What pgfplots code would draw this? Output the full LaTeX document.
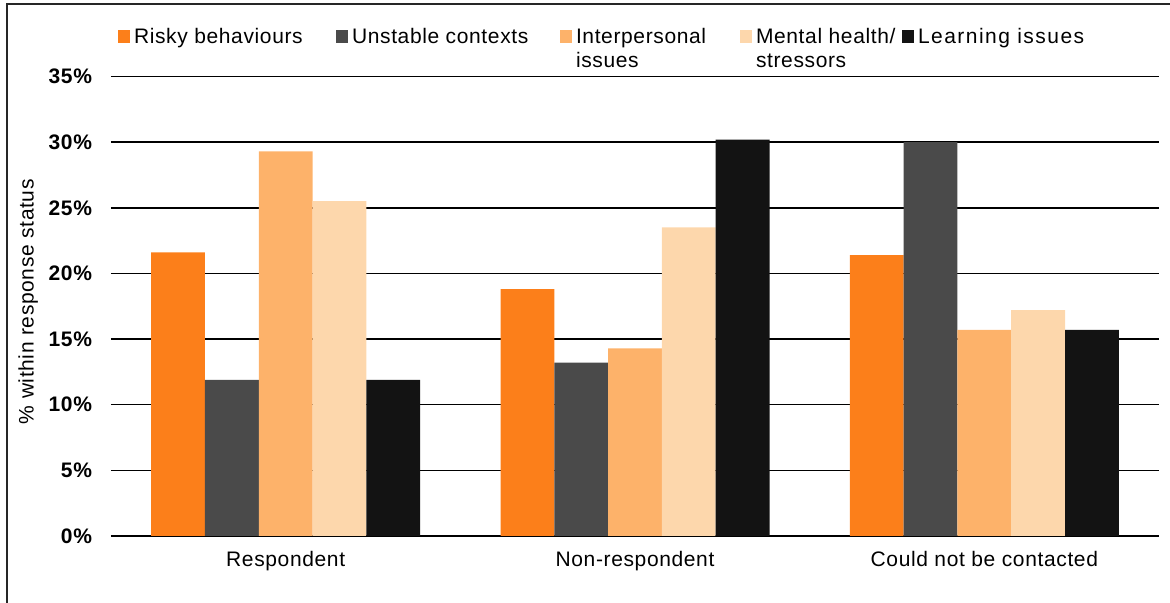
\documentclass[border=0pt]{standalone}
\usepackage{fontspec}
\setmainfont{Liberation Sans}[LetterSpace=3]
\newfontfamily\widefont{Liberation Sans}[LetterSpace=7]
\usepackage{pgfplots}
\pgfplotsset{compat=1.18}
\definecolor{cRisky}{HTML}{FC7F1A}
\definecolor{cUnstable}{HTML}{4A4A4A}
\definecolor{cInter}{HTML}{FDB26A}
\definecolor{cMental}{HTML}{FDD7AC}
\definecolor{cLearn}{HTML}{131313}

\begin{document}
\begin{tikzpicture}[x=1pt,y=1pt]
% outer frame (only top and left edge fall inside the picture)
\draw[line width=0.9pt, black!85] (3.5,-20) -- (3.5,299.5) -- (620,299.5);
\begin{axis}[
    at={(55.5pt,33.5pt)}, anchor=south west,
    scale only axis, width=524pt, height=229.75pt,
    ybar=0pt, bar width=26.9pt,
    xmin=-0.5, xmax=2.5, ymin=0, ymax=35,
    xtick={0,1,2},
    xticklabels={Respondent, Non-respondent, Could not be contacted},
    ytick={0,5,...,35},
    yticklabel={\pgfmathprintnumber[assume math mode=true,fixed,precision=0]{\tick}\%},
    major tick length=0pt,
    axis line style={draw=none},
    ymajorgrids, grid style={black, line width=0.75pt},
    yticklabel style={font=\bfseries\fontsize{10.5}{12}\selectfont, xshift=-6pt},
    xticklabel style={font=\fontsize{10.5}{12}\selectfont, yshift=-4pt},
    ylabel={\% within response status},
    ylabel style={at={(axis description cs:-0.079,0.51)}, anchor=center,
        font=\fontsize{10.5}{12}\selectfont},
    legend image code/.code={\fill[#1] (0pt,0pt) rectangle (6pt,6.5pt);},
    legend columns=5,
    legend style={at={(axis description cs:0.0067,1.105)}, anchor=north west,
        draw=none, fill=none, inner sep=0pt, outer sep=0pt,
        font=\fontsize{10.5}{12}\selectfont,
        cells={anchor=base west}, nodes={inner sep=0pt},
        /tikz/every odd column/.style={column sep=2pt},
        /tikz/every even column/.style={column sep=0pt}},
    clip=false,
]
\addplot[fill=cRisky, draw=none] coordinates {(0,21.6) (1,18.8) (2,21.4)};
\addlegendentry{\parbox[t]{101pt}{Risky behaviours}}
\addplot[fill=cUnstable, draw=none] coordinates {(0,11.9) (1,13.2) (2,30.0)};
\addlegendentry{\parbox[t]{104pt}{Unstable contexts}}
\addplot[fill=cInter, draw=none] coordinates {(0,29.3) (1,14.3) (2,15.7)};
\addlegendentry{\parbox[t]{82pt}{\raggedright Interpersonal\\issues}}
\addplot[fill=cMental, draw=none] coordinates {(0,25.5) (1,23.5) (2,17.2)};
\addlegendentry{\parbox[t]{73pt}{\raggedright Mental health/\\stressors}}
\addplot[fill=cLearn, draw=none] coordinates {(0,11.9) (1,30.2) (2,15.7)};
\addlegendentry{{\widefont Learning issues}}
\end{axis}
\pgfresetboundingbox
\path[use as bounding box] (0,0) rectangle (585,301.5);
\end{tikzpicture}
\end{document}
